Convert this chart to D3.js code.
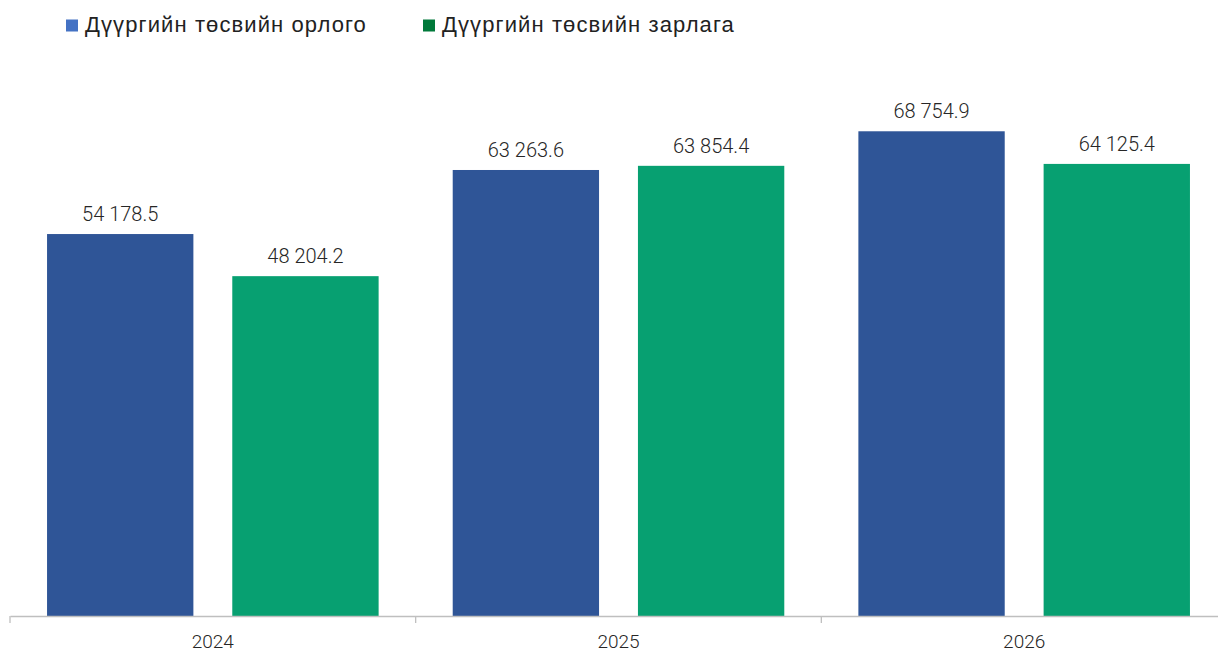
<!DOCTYPE html>
<html><head><meta charset="utf-8">
<script src="https://cdn.jsdelivr.net/npm/d3@7"></script>
<style>
html,body{margin:0;padding:0;background:#fff;}
svg{display:block;}
</style></head>
<body>
<svg id="chart" width="1218" height="652"></svg>
<script>
const categories = ["2024", "2025", "2026"];
const seriesNames = ["Дүүргийн төсвийн орлого", "Дүүргийн төсвийн зарлага"];
const revenue = [54178.5, 63263.6, 68754.9];
const expenditure = [48204.2, 63854.4, 64125.4];

const barColors = ["#2F5597", "#07A071"];
const legendColors = ["#4472C4", "#00793A"];

const svg = d3.select("#chart");
const baseY = 616;
const x0 = d3.scaleBand().domain(categories).range([10, 1227]).paddingInner(0).paddingOuter(0);
const x1 = d3.scaleBand().domain([0, 1]).range([0, x0.bandwidth()]).paddingInner(0.21).paddingOuter(0.2);
const y = d3.scaleLinear().domain([0, 80000]).range([baseY, baseY - 564]);

const fmt = v => {
  const s = v.toFixed(1);
  const [i, d] = s.split(".");
  return i.replace(/\B(?=(\d{3})+(?!\d))/g, " ") + "." + d;
};

const series = [revenue, expenditure];
series.forEach((vals, si) => {
  const g = svg.append("g");
  g.selectAll("rect").data(vals).join("rect")
    .attr("x", (d, i) => x0(categories[i]) + x1(si))
    .attr("width", x1.bandwidth())
    .attr("y", d => y(d))
    .attr("height", d => baseY - y(d))
    .attr("fill", barColors[si]);
  g.selectAll("text").data(vals).join("text")
    .attr("x", (d, i) => x0(categories[i]) + x1(si) + x1.bandwidth() / 2)
    .attr("y", d => y(d) - 13)
    .attr("text-anchor", "middle")
    .attr("font-family", "Roboto")
    .attr("font-weight", 300)
    .attr("font-size", 20)
    .attr("fill", "#262626")
    .text(d => fmt(d));
});

// axis
const axis = d3.axisBottom(x0).tickSize(0).tickSizeOuter(0);
const ag = svg.append("g").attr("transform", `translate(0,${baseY})`).call(axis);
ag.select(".domain").attr("stroke", "#BFBFBF").attr("stroke-width", 1.3);
ag.selectAll(".tick text").attr("font-family", "Roboto").attr("font-weight", 300)
  .attr("font-size", 19).attr("fill", "#262626").attr("dy", 0).attr("y", 32);
// category boundary ticks
const bounds = categories.map(c => x0(c));
ag.selectAll(".bound").data(bounds).join("line").attr("class", "bound")
  .attr("x1", d => d).attr("x2", d => d).attr("y1", 0).attr("y2", 7)
  .attr("stroke", "#BFBFBF").attr("stroke-width", 1.3);

// legend
const legendX = [66, 423];
const lg = svg.append("g");
seriesNames.forEach((n, i) => {
  lg.append("rect").attr("x", legendX[i]).attr("y", 19.5).attr("width", 12).attr("height", 12).attr("fill", legendColors[i]);
  lg.append("text").attr("x", legendX[i] + 19).attr("y", 32)
    .attr("font-family", "Liberation Sans, Arial, sans-serif")
    .attr("font-size", 22).attr("letter-spacing", 1.1).attr("fill", "#222").text(n);
});
</script>
</body></html>
